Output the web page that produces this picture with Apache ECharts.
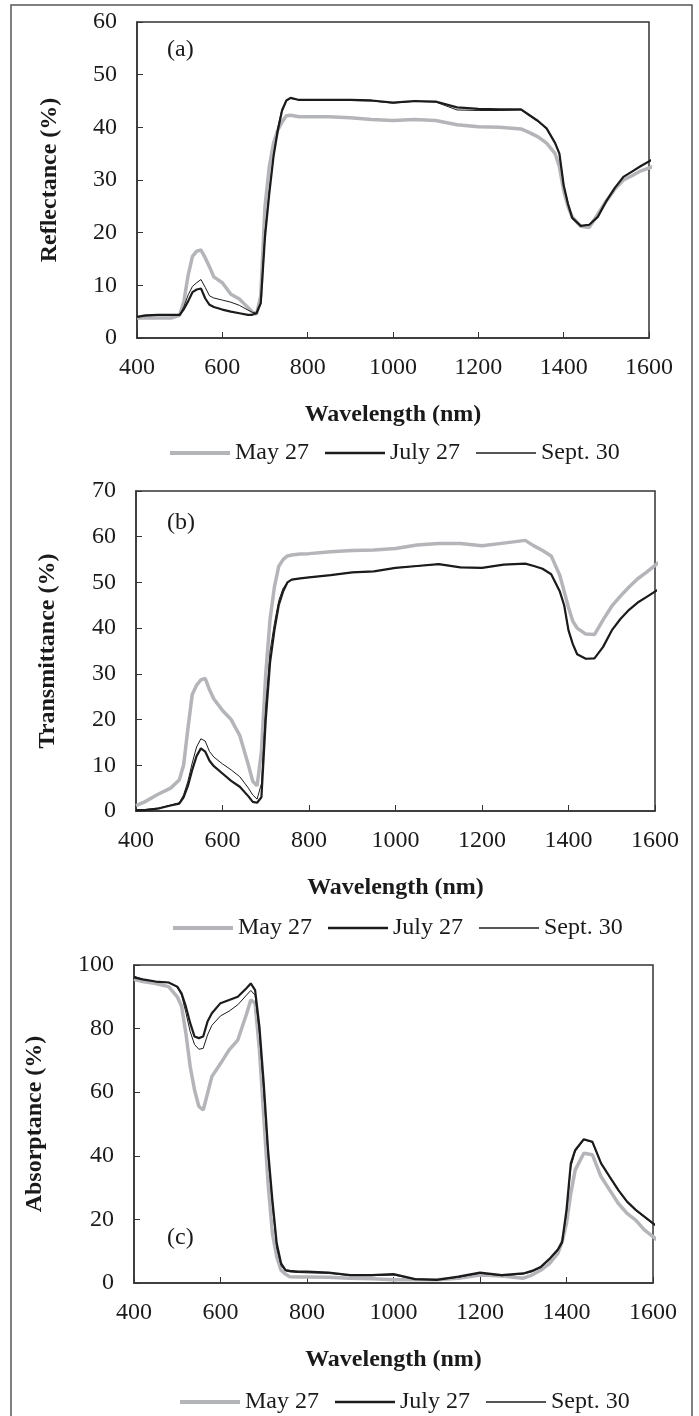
<!DOCTYPE html>
<html>
<head>
<meta charset="utf-8">
<script src="https://cdn.jsdelivr.net/npm/echarts@6/dist/echarts.min.js"></script>
<style>
  html, body { margin: 0; padding: 0; background: #fff; }
  #chart { width: 699px; height: 1416px; }
</style>
</head>
<body>
<div id="chart"></div>
<script>
// wavelength (nm) shared by every series
const wl = [400, 420, 450, 480, 500, 510, 520, 530, 540, 550, 560, 570, 580, 600, 620, 640, 660, 670, 680, 690,
  700, 710, 720, 730, 740, 750, 760, 780, 800, 850, 900, 950, 1000, 1050, 1100, 1150, 1200, 1250, 1300, 1320,
  1340, 1360, 1380, 1390, 1400, 1410, 1420, 1440, 1460, 1480, 1500, 1520, 1540, 1560, 1580, 1610];

const seriesNames = ['May 27', 'July 27', 'Sept. 30'];

// (a) reflectance
const reflMay = [3.8, 3.8, 3.8, 3.8, 4.3, 7, 12, 15.5, 16.5, 16.7, 15.2, 13.5, 11.6, 10.5, 8.3, 7.4, 5.8, 5, 4.5, 8,
  25, 32.5, 37, 39.5, 41, 42.2, 42.3, 42, 42, 42, 41.8, 41.5, 41.3, 41.5, 41.3, 40.5, 40.1, 40, 39.7, 39,
  38.2, 37, 35, 32.5, 28, 25, 23, 21.2, 21, 23.5, 26, 28.3, 30, 30.8, 31.7, 32.6];
const reflJul = [4.0, 4.3, 4.4, 4.4, 4.4, 5.5, 7, 8.7, 9.2, 9.4, 7.5, 6.3, 5.9, 5.4, 5.0, 4.7, 4.4, 4.4, 4.7, 6.6,
  19.2, 27.4, 34.5, 39.4, 43.2, 45.1, 45.6, 45.2, 45.2, 45.2, 45.2, 45.1, 44.7, 45, 44.9, 43.8, 43.5, 43.4, 43.4, 42.3,
  41.2, 39.8, 37, 35, 29, 25.5, 22.8, 21.3, 21.5, 23, 26, 28.5, 30.6, 31.6, 32.6, 34];
const reflSep = [4.0, 4.2, 4.3, 4.3, 4.4, 6, 8.2, 9.8, 10.5, 11.1, 9.6, 8, 7.6, 7.2, 6.8, 6.2, 5.3, 4.9, 4.7, 6.5,
  20, 28, 34.5, 40, 43.5, 45, 45.5, 45.2, 45.2, 45.1, 45.1, 45, 44.6, 44.9, 44.8, 43.3, 43.2, 43.2, 43.3, 42.2,
  41.1, 39.7, 37, 35, 29, 25.5, 22.8, 21.3, 21.5, 23, 26, 28.5, 30.6, 31.6, 32.6, 34];

// (b) transmittance
const tranMay = [1.2, 2, 3.6, 5, 6.8, 10, 18, 25.5, 27.5, 28.7, 29, 26.5, 24.5, 22, 20, 16.5, 10, 6.5, 5.5, 13,
  30, 42, 49, 53.5, 55, 55.8, 56, 56.2, 56.3, 56.7, 57, 57.1, 57.4, 58.2, 58.5, 58.5, 58, 58.6, 59.2, 58,
  57, 55.8, 51.5, 48, 44.5, 41.5, 40, 38.7, 38.6, 41.8, 44.8, 47, 49, 50.8, 52.2, 54.5];
const tranJul = [0.2, 0.2, 0.5, 1.2, 1.6, 3, 5.5, 9, 12, 13.7, 13, 11, 9.8, 8.2, 6.6, 5.3, 3.2, 2, 1.8, 3,
  20, 32.5, 39.5, 45, 48, 50, 50.6, 50.9, 51.1, 51.6, 52.2, 52.4, 53.2, 53.6, 54, 53.3, 53.2, 53.9, 54.1, 53.6,
  53, 51.8, 48, 45, 39.5, 36.5, 34.3, 33.3, 33.4, 35.9, 39.5, 42, 44, 45.6, 46.8, 48.6];
const tranSep = [0.3, 0.3, 0.6, 1.3, 1.8, 3.5, 6.5, 10.5, 14, 15.8, 15.3, 13, 11.8, 10.3, 9, 7.5, 5, 3.5, 2.6, 6,
  23, 35, 41, 46, 48.7, 50, 50.6, 50.9, 51.1, 51.6, 52.2, 52.4, 53.2, 53.6, 54, 53.3, 53.2, 53.9, 54.1, 53.6,
  53, 51.8, 48, 45, 39.5, 36.5, 34.3, 33.3, 33.4, 35.9, 39.5, 42, 44, 45.6, 46.8, 48.6];

// (c) absorptance
const absMay = [95.5, 94.8, 94.2, 93.2, 90, 87, 78.5, 68, 60.7, 55.5, 54.4, 59.6, 64.9, 69, 73.3, 76.4, 84.5, 89, 88, 73.3,
  52.3, 31.3, 15.6, 8.3, 4, 2.8, 2, 1.9, 1.9, 1.8, 1.5, 1.3, 1, 1, 1, 1.5, 2.5, 2.2, 1.5, 2.5,
  4, 6, 9.3, 13, 18.8, 28.2, 35.5, 40.8, 40.3, 33.4, 29.2, 25, 21.9, 19.8, 16.7, 13.5];
const absJul = [96.1, 95.5, 94.8, 94.5, 93.2, 91.1, 86.9, 81.7, 77.5, 77, 77.5, 82.2, 84.8, 88, 89, 90, 92.7, 94.2, 92.1, 80.6,
  62.8, 41.8, 26.1, 12.5, 6.2, 4.1, 3.8, 3.6, 3.6, 3.3, 2.5, 2.5, 2.8, 1.2, 1, 2, 3.3, 2.5, 3, 3.8,
  5, 7.5, 10.5, 13, 23, 37.6, 41.8, 45.2, 44.4, 37.6, 33.4, 29.2, 25.6, 23, 20.9, 17.7];
const absSep = [96.5, 95.5, 94.8, 94.5, 93, 90.5, 85, 79, 75, 73.5, 73.8, 78, 81, 84, 85.5, 87.5, 90.5, 92, 90.5, 78.5,
  60, 40, 24, 11, 5.5, 3.8, 3.5, 3.3, 3.2, 3, 2.3, 2.3, 2.5, 1.2, 1, 1.8, 3, 2.3, 2.8, 3.5,
  4.8, 7.2, 10.2, 12.5, 22, 36.5, 41.3, 45, 44.2, 37.5, 33.2, 29, 25.5, 22.8, 20.7, 17.5];

const FONT = '"Liberation Serif", "DejaVu Serif", serif';
const lineStyles = [
  { color: '#b4b5b8', width: 3.5 },
  { color: '#1c1c1c', width: 2.2 },
  { color: '#1c1c1c', width: 1 }
];
// legend swatches: flat bars, thickness like the lines
const legendIcons = ['path://M0 0H60V4H0Z', 'path://M0 0H60V2.4H0Z', 'path://M0 0H60V1.6H0Z'];

function pairs(values) {
  return wl.map((w, i) => [w, values[i]]);
}

window.addEventListener('load', () => {
  let chart = echarts.init(document.getElementById('chart'), null, { renderer: 'canvas' });

  const panels = [
    { grid: { left: 137, right: 50, top: 22, height: 316 }, max: 60, interval: 10, name: 'Reflectance (%)', nameGap: 75, data: [reflMay, reflJul, reflSep], legendTop: 436, legendLeft: 165 },
    { grid: { left: 136, right: 44, top: 491, height: 320 }, max: 70, interval: 10, name: 'Transmittance (%)', nameGap: 76, data: [tranMay, tranJul, tranSep], legendTop: 911, legendLeft: 168 },
    { grid: { left: 134, right: 46, top: 965, height: 318 }, max: 100, interval: 20, name: 'Absorptance (%)', nameGap: 87, data: [absMay, absJul, absSep], legendTop: 1385, legendLeft: 175 }
  ];

  let grids = [], xAxes = [], yAxes = [], series = [], legends = [];
  const axisLine = { show: true, lineStyle: { color: '#333', width: 1.5 } };

  panels.forEach((p, k) => {
    grids.push(Object.assign({ show: true, borderColor: '#333', borderWidth: 1.5, containLabel: false }, p.grid));
    xAxes.push({
      type: 'value', gridIndex: k, min: 400, max: 1600, interval: 200,
      axisLine: axisLine,
      axisTick: { inside: true, length: 6, lineStyle: { color: '#333', width: 1 } },
      axisLabel: { margin: 18, fontSize: 24, fontFamily: FONT, color: '#1a1a1a', formatter: (v) => String(v) },
      splitLine: { show: false },
      name: 'Wavelength (nm)', nameLocation: 'middle', nameGap: 65,
      nameTextStyle: { fontSize: 24, fontWeight: 'bold', fontFamily: FONT, color: '#1a1a1a' }
    });
    yAxes.push({
      type: 'value', gridIndex: k, min: 0, max: p.max, interval: p.interval,
      axisLine: axisLine,
      axisTick: { inside: true, length: 6, lineStyle: { color: '#333', width: 1 } },
      axisLabel: { margin: 20, fontSize: 24, fontFamily: FONT, color: '#1a1a1a' },
      splitLine: { show: false },
      name: p.name, nameLocation: 'middle', nameRotate: 90, nameGap: p.nameGap,
      nameTextStyle: { fontSize: 24, fontWeight: 'bold', fontFamily: FONT, color: '#1a1a1a' }
    });
    p.data.forEach((vals, j) => {
      series.push({
        name: seriesNames[j], type: 'line', xAxisIndex: k, yAxisIndex: k,
        data: pairs(vals), symbol: 'none', clip: false,
        lineStyle: { color: lineStyles[j].color, width: lineStyles[j].width },
        itemStyle: { color: lineStyles[j].color }
      });
    });
    legends.push({
      data: seriesNames.map((n, j) => ({ name: n, icon: legendIcons[j] })),
      left: p.legendLeft, top: p.legendTop,
      itemWidth: 60, itemHeight: 14, itemGap: 16, selectedMode: false,
      symbolKeepAspect: true,
      itemStyle: { borderWidth: 0 },
      textStyle: { fontSize: 24, fontFamily: FONT, color: '#1a1a1a' }
    });
  });

  let option = {
    backgroundColor: '#fff',
    animation: false,
    grid: grids,
    xAxis: xAxes,
    yAxis: yAxes,
    legend: legends,
    series: series,
    graphic: [
      { type: 'rect', shape: { x: 11, y: 5, width: 681, height: 1430 }, style: { fill: null, stroke: '#555', lineWidth: 1.5 } },
      { type: 'text', left: 167, top: 38, style: { text: '(a)', fontSize: 24, fontFamily: FONT, fill: '#1a1a1a' } },
      { type: 'text', left: 167, top: 511, style: { text: '(b)', fontSize: 24, fontFamily: FONT, fill: '#1a1a1a' } },
      { type: 'text', left: 167, top: 1226, style: { text: '(c)', fontSize: 24, fontFamily: FONT, fill: '#1a1a1a' } }
    ]
  };

  chart.setOption(option);
  window.addEventListener('resize', chart.resize);
});
</script>
</body>
</html>
